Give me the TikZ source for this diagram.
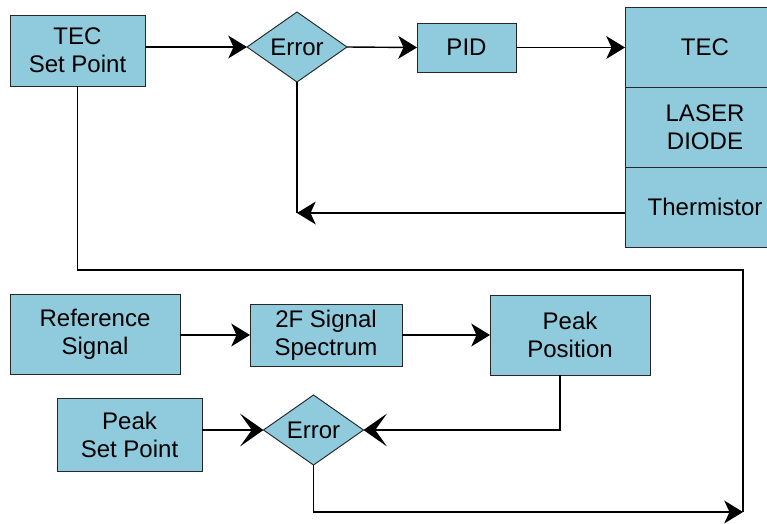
\documentclass[tikz,border=0pt]{standalone}
\usepackage{fontspec}
\setmainfont{Liberation Sans}
\usetikzlibrary{arrows.meta,positioning,shapes.geometric}
\definecolor{boxblue}{RGB}{143,203,220}

\begin{document}
\begin{tikzpicture}[x=0.03cm, y=-0.03cm,
                    font=\fontsize{20.5pt}{24pt}\selectfont]
    \tikzstyle{block}=[rectangle, draw=black!85, fill=boxblue, line width=0.8pt, align=center, inner sep=0pt, outer sep=0pt]
    \tikzstyle{errbox}=[diamond, aspect=1.4, draw=black!85, fill=boxblue, line width=0.8pt, inner sep=0pt, outer sep=0pt, minimum width=3cm, minimum height=2.1cm]
    \tikzstyle{connect}=[-{Stealth[length=16pt, width=19.5pt, inset=4.5pt]}, line width=1.2pt]
    \tikzstyle{bigconnect}=[-{Stealth[length=20pt, width=28pt, inset=10pt]}, line width=1.2pt]
    \tikzstyle{wire}=[line width=1.2pt]

    \useasboundingbox (0,0) rectangle (767,523);

    % temperature loop
    \node[block, minimum width=4.05cm, minimum height=2.13cm] (tecset) at (77.5,50.5) {TEC\\Set Point};
    \node[errbox] (err1) at (297,47) {Error};
    \node[block, minimum width=2.97cm, minimum height=1.47cm] (pid) at (466.5,47.5) {PID};
    \node[block, minimum width=4.8cm, minimum height=2.4cm] (tec) at (705,47) {TEC};
    \node[block, minimum width=4.8cm, minimum height=2.4cm] (laser) [below=0pt of tec] {LASER\\DIODE};
    \node[block, minimum width=4.8cm, minimum height=2.4cm] (therm) [below=0pt of laser] {Thermistor};
    \coordinate (fbend) at (297,213);
    \coordinate (bend) at (743,270);
    \coordinate (join) at (743,512);
    \path
      (tecset.east |- err1) edge [connect] (err1.west)
      (err1.east) edge [connect] (pid.west)
      (pid.east) edge [connect] (pid.east -| tec.west)
      (therm.west |- fbend) edge [connect] (fbend)
      (err1.south) edge [wire] (fbend);
    \draw[wire] (tecset.south) |- (bend) -- (join);

    % peak loop
    \node[block, minimum width=5.1cm, minimum height=2.4cm] (refsig) at (95,334) {Reference\\Signal};
    \node[block, minimum width=4.56cm, minimum height=1.86cm] (spec) at (326,335) {2F Signal\\Spectrum};
    \node[block, minimum width=4.8cm, minimum height=2.4cm] (peakpos) at (570,335) {Peak\\Position};
    \node[block, minimum width=4.35cm, minimum height=2.19cm] (peakset) at (129.5,434.5) {Peak\\Set Point};
    \node[errbox] (err2) at (313.5,430) {Error};
    \path
      (refsig.east |- spec) edge [connect] (spec.west)
      (spec.east) edge [connect] (peakpos.west |- spec)
      (peakset.east |- err2) edge [bigconnect] (err2.west);
    \draw[bigconnect] ([xshift=-0.3cm]peakpos.south) |- (err2.east);
    \draw[connect] (err2.south) |- (join);
\end{tikzpicture}
\end{document}
